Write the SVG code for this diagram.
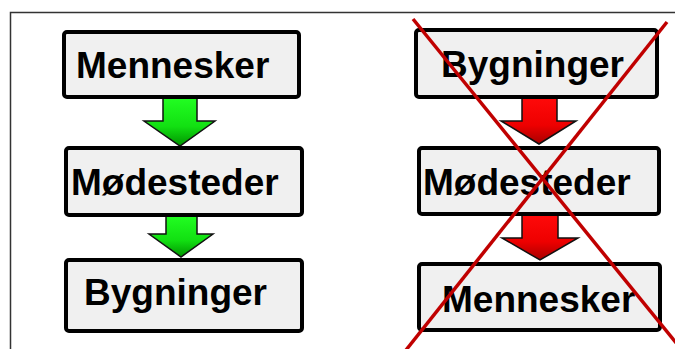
<svg xmlns="http://www.w3.org/2000/svg" width="675" height="349" viewBox="0 0 675 349">
  <style>
    .box { fill: #f0f0f0; stroke: #000; stroke-width: 4; }
    .label { font-family: "Liberation Sans", Arial, sans-serif; font-weight: bold; font-size: 37px; fill: #000; }
    .arrow { stroke: #111; stroke-width: 1.5; stroke-linejoin: miter; }
    .cross { stroke: #c00000; stroke-width: 3.5; fill: none; }
  </style>
  <defs>
    <linearGradient id="gGreen" x1="0" y1="0" x2="0" y2="1">
      <stop offset="0" stop-color="#22ff22"/>
      <stop offset="0.6" stop-color="#12e012"/>
      <stop offset="1" stop-color="#009400"/>
    </linearGradient>
    <linearGradient id="gRed" x1="0" y1="0" x2="0" y2="1">
      <stop offset="0" stop-color="#ff0a0a"/>
      <stop offset="0.6" stop-color="#ee0000"/>
      <stop offset="1" stop-color="#a80000"/>
    </linearGradient>
  </defs>

  <rect width="675" height="349" fill="#fff"/>
  <!-- outer frame -->
  <path d="M10.5,349 V12.5 H675" fill="none" stroke="#333" stroke-width="1.5"/>

  <!-- connectors -->
  <g id="connectors">
    <path class="arrow" fill="url(#gGreen)" d="M163,97 H197 V121 H215 L180,146 L144,121 H163 Z"/>
    <path class="arrow" fill="url(#gGreen)" d="M166,215 H197 V234 H213 L181,257 L149,234 H166 Z"/>
    <path class="arrow" fill="url(#gRed)" d="M522,97 H557 V121 H576 L539,144 L501,121 H522 Z"/>
    <path class="arrow" fill="url(#gRed)" d="M522,214 H558 V238 H578 L540,260 L502,238 H522 Z"/>
  </g>

  <!-- left column -->
  <g id="left-mennesker">
    <rect class="box" x="64" y="32" width="235" height="65" rx="3"/>
    <text class="label" x="76" y="78">Mennesker</text>
  </g>
  <g id="left-modesteder">
    <rect class="box" x="66" y="148" width="236" height="67" rx="3"/>
    <text class="label" x="71" y="195">Mødesteder</text>
  </g>
  <g id="left-bygninger">
    <rect class="box" x="66" y="260" width="236" height="71" rx="3"/>
    <text class="label" x="84" y="305">Bygninger</text>
  </g>

  <!-- right column -->
  <g id="right-bygninger">
    <rect class="box" x="416" y="30" width="241" height="67" rx="3"/>
    <text class="label" x="441" y="77">Bygninger</text>
  </g>
  <g id="right-modesteder">
    <rect class="box" x="419" y="148" width="240" height="66" rx="3"/>
    <text class="label" x="423" y="195">Mødesteder</text>
  </g>
  <g id="right-mennesker">
    <rect class="box" x="419" y="264" width="241" height="66" rx="3"/>
    <text class="label" x="442" y="312">Mennesker</text>
  </g>

  <!-- crossing-out lines -->
  <g id="cross">
    <line class="cross" x1="413" y1="19" x2="677" y2="344"/>
    <line class="cross" x1="667" y1="22" x2="406" y2="350"/>
  </g>
</svg>
